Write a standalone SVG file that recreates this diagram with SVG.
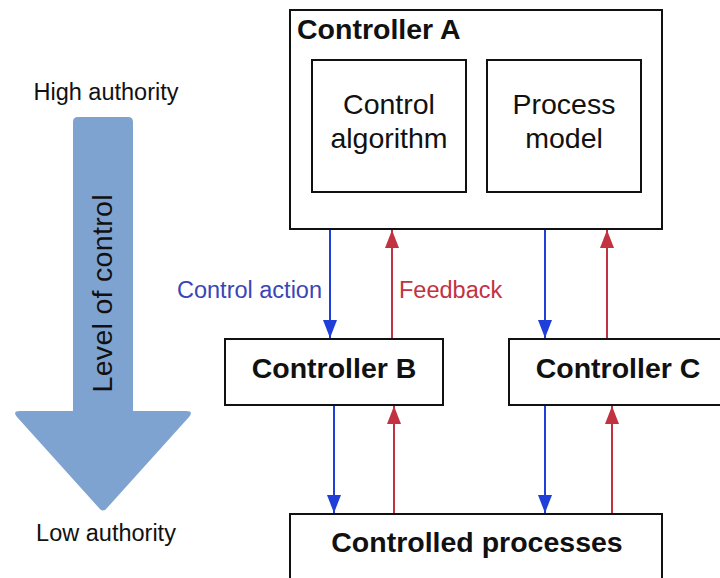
<svg xmlns="http://www.w3.org/2000/svg" width="720" height="578" viewBox="0 0 720 578">
<defs>
<style>
.box{fill:#fff;stroke:#111;stroke-width:2}
.t{font-family:"Liberation Sans",Arial,sans-serif;fill:#111}
.b{font-weight:bold;font-size:28.5px}
.n{font-size:28.5px}
.lab{font-size:23.5px}
.blue{stroke:#1f3fd8;stroke-width:2;fill:none}
.red{stroke:#c23241;stroke-width:2;fill:none}
</style>
<marker id="ab" viewBox="0 0 18 14" refX="18" refY="7" markerWidth="18" markerHeight="14" markerUnits="userSpaceOnUse" orient="auto">
<path d="M0,0 L18,7 L0,14 Z" fill="#1f3fd8"/>
</marker>
<marker id="ar" viewBox="0 0 18 14" refX="18" refY="7" markerWidth="18" markerHeight="14" markerUnits="userSpaceOnUse" orient="auto">
<path d="M0,0 L18,7 L0,14 Z" fill="#c23241"/>
</marker>
</defs>
<rect width="720" height="578" fill="#fff"/>

<g id="authority-arrow">
<path d="M78,117 L128,117 Q133,117 133,122 L133,411 L186,411 Q194,411 189,417 L107,508 Q103,513 99,508 L17,417 Q12,411 20,411 L73,411 L73,122 Q73,117 78,117 Z" fill="#7fa3d0"/>
<text class="t" x="112" y="293.5" transform="rotate(-90 112 293.5)" text-anchor="middle" font-size="28.5" textLength="198">Level of control</text>
<text class="t" x="106" y="100" text-anchor="middle" font-size="23.5">High authority</text>
<text class="t" x="106" y="541" text-anchor="middle" font-size="23.5">Low authority</text>
</g>

<g id="controller-a">
<rect class="box" x="290" y="10" width="372" height="219"/>
<text class="t b" x="297" y="39">Controller A</text>
</g>
<g id="control-algorithm">
<rect class="box" x="312" y="60" width="154" height="132"/>
<text class="t n" x="389" y="114" text-anchor="middle">Control</text>
<text class="t n" x="389" y="148" text-anchor="middle">algorithm</text>
</g>
<g id="process-model">
<rect class="box" x="487" y="60" width="154" height="132"/>
<text class="t n" x="564" y="114" text-anchor="middle">Process</text>
<text class="t n" x="564" y="148" text-anchor="middle">model</text>
</g>
<g id="controller-b">
<rect class="box" x="225" y="339" width="218" height="66"/>
<text class="t b" x="334" y="378" text-anchor="middle">Controller B</text>
</g>
<g id="controller-c">
<rect class="box" x="509" y="339" width="212" height="66"/>
<text class="t b" x="618" y="378" text-anchor="middle">Controller C</text>
</g>
<g id="controlled-processes">
<rect class="box" x="290" y="514" width="372" height="80"/>
<text class="t b" x="477" y="552" text-anchor="middle">Controlled processes</text>
</g>

<g id="connectors">
<line class="blue" x1="330" y1="230" x2="330" y2="338" marker-end="url(#ab)"/>
<line class="red" x1="392" y1="338" x2="392" y2="230" marker-end="url(#ar)"/>
<line class="blue" x1="545" y1="230" x2="545" y2="338" marker-end="url(#ab)"/>
<line class="red" x1="607" y1="338" x2="607" y2="230" marker-end="url(#ar)"/>
<line class="blue" x1="334" y1="406" x2="334" y2="513" marker-end="url(#ab)"/>
<line class="red" x1="394" y1="513" x2="394" y2="406" marker-end="url(#ar)"/>
<line class="blue" x1="545" y1="406" x2="545" y2="513" marker-end="url(#ab)"/>
<line class="red" x1="612" y1="513" x2="612" y2="406" marker-end="url(#ar)"/>
<text class="t lab" x="322" y="298" text-anchor="end" style="fill:#3a45b8">Control action</text>
<text class="t lab" x="399" y="298" style="fill:#c23241">Feedback</text>
</g>
</svg>
